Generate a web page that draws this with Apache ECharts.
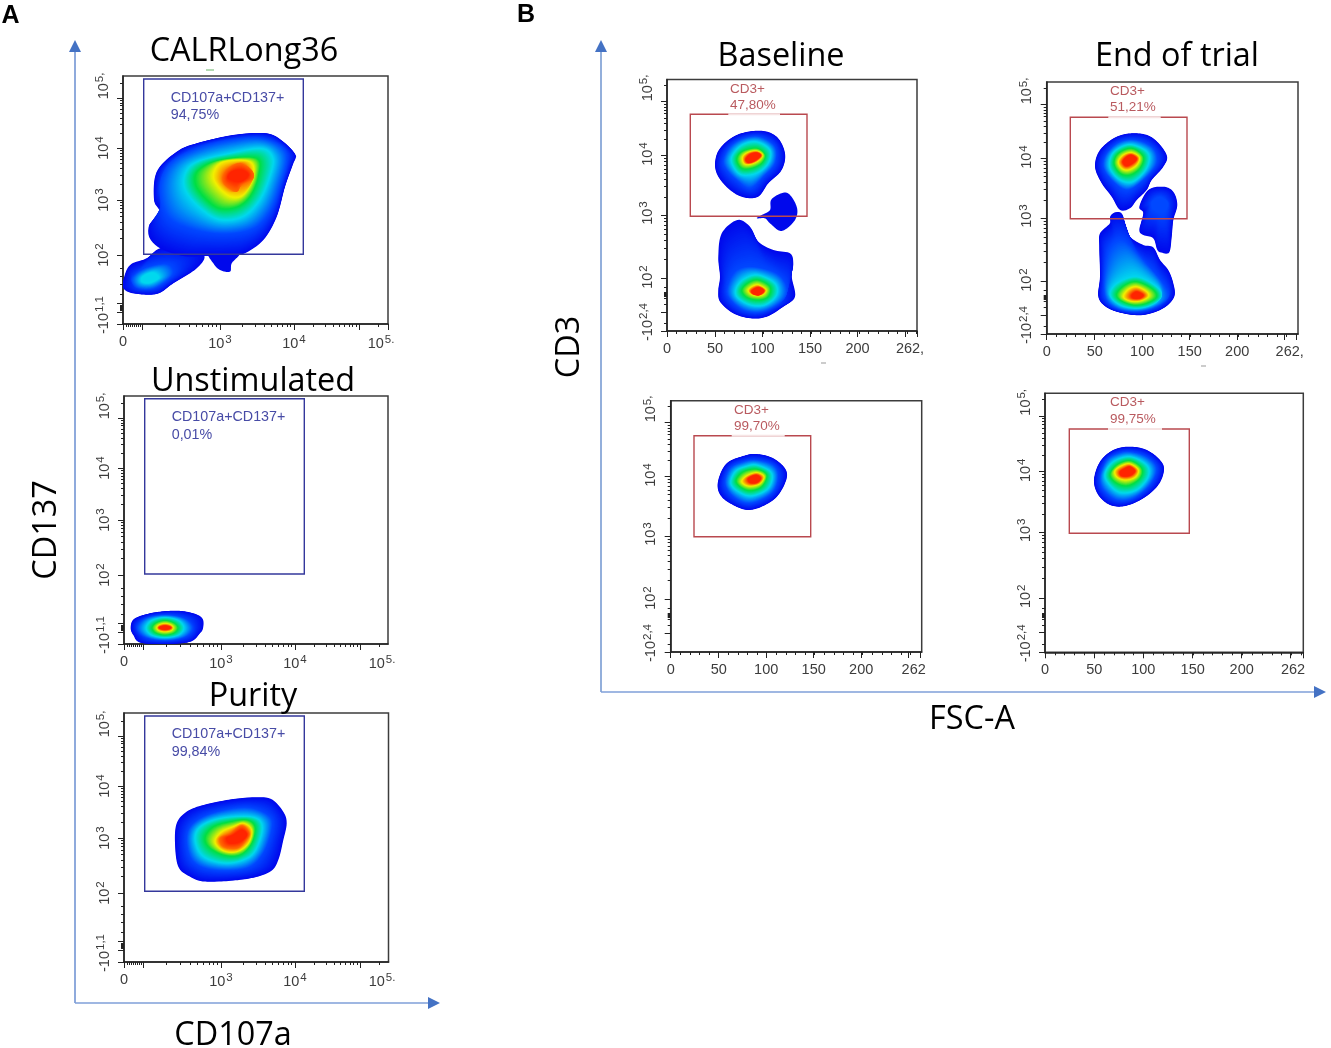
<!DOCTYPE html>
<html>
<head>
<meta charset="utf-8">
<style>html,body{margin:0;padding:0;background:#fff}#c{width:1331px;height:1048px}</style>
<script src="https://cdn.jsdelivr.net/npm/echarts@6/dist/echarts.min.js"></script>
</head>
<body>
<div id="c"></div>
<script>
// All contours and gates are readings in display channels of each plot (biexponential scale for CD137, CD107a, CD3).
const densityColors = ['#0008ec','#0048ff','#00d8ee','#00de44','#f2f000','#ff2400','#ff6a00'];

const a1Outer = [[143.7,190.7],[160.3,182.3],[172.7,169],[170.3,160.7],[162,137.3],[153.7,107.3],[140.3,84],[120,70],[100,68],[81,68],[60,68],[37,75.7],[26,87.3],[27,100.7],[36.3,104],[36.3,114],[31,124],[33.7,152.3],[53.7,172.3],[73.7,180.7],[110.3,189]];
const a1Blue = [[140.3,185.7],[163.7,170.7],[157,137.3],[147,112],[130,95],[100,90],[67,95],[43.7,108],[37,137.3],[47,160.7],[73.7,175.7],[107,184]];
const a1Cyan = [[138.7,175.7],[150.3,165.7],[147,147.3],[137,124],[120.3,107.3],[97,104],[77,115.7],[62,134],[62,150.7],[73.7,162.3],[107,170.7]];
const a1Green = [[133.7,165.7],[135.3,147.3],[127,127.3],[113.7,116.7],[95.3,115.7],[80.3,127.3],[72,140.7],[75.3,154],[97,164]];
const a1Yellow = [[127,162.3],[130.3,147.3],[120.3,129],[107,127.3],[93.7,139],[90.3,150.7],[100.3,162.3]];
const a1Orange = [[117,160.7],[128.7,154],[130.3,145.7],[118.7,139],[113.7,132.3],[102,139],[99.7,147.3],[105.3,155.7]];
const a1Core = [[118.7,154],[125.3,149],[117,142.3],[105.3,145.7],[108.7,152.3]];
const a1TailOuter = [[81,69],[73.7,55.7],[50.3,40.7],[33.7,30],[10.3,30.7],[0.3,35.7],[0.3,44],[7,59],[23.7,65.7],[37,75.7],[60,78]];
const a1TailBlue = [[44,60],[50,50],[32,36],[14,36],[9,46],[22,56]];
const a1TailCyan = [[32,51],[36,46],[27,41],[19,42],[19,47],[26,51]];
const a1Bump = [[85,72],[90.3,60.7],[97,54],[107,52.3],[108.7,60.7],[117,72],[100,80]];

const a2Outer = [[52.7,33.3],[69.3,30.7],[78.3,25.7],[79.3,17.3],[76,10.7],[62.7,1.3],[19.3,0.7],[9.3,9],[6.7,17.3],[11,25.7],[29.3,31.3]];
const a2Blue = [[41,29],[61,25.5],[69,16],[61,7],[41,3.5],[21,7],[13,16],[21,25.5]];
const a2Cyan = [[41,26.5],[54.5,23.5],[60,16],[54.5,9],[41,6.5],[27.5,9],[22,16],[27.5,23.5]];
const a2Green = [[41,23.5],[50,21],[54,16],[50,11],[41,9],[32,11],[28,16],[32,21]];
const a2Yellow = [[41,20.5],[47,19],[49,16.3],[47,13.5],[41,12.3],[35,13.5],[33,16.3],[35,19]];
const a2Red = [[41,18.3],[45,17.6],[47,16.3],[45,15],[41,14.3],[37,15],[35,16.3],[37,17.6]];

const a3Outer = [[132.7,164.7],[147.7,162.7],[159.3,150.3],[162.7,138.7],[159.3,122],[154.3,102],[146,90.3],[122.7,83],[82.7,80.3],[66,85.3],[54.3,95.3],[51,118.7],[52.7,138.7],[62.7,150.3],[79.3,157],[109.3,163]];
const a3Blue = [[129.3,153.7],[146,145.3],[147.7,132],[139.3,108.7],[122.7,93.7],[89.3,92],[69.3,100.3],[62.7,118.7],[66,135.3],[82.7,147],[109.3,153.7]];
const a3Cyan = [[126,145.3],[137.7,138.7],[136,122],[126,105.3],[102.7,98.7],[79.3,105.3],[71,122],[76,135.3],[96,143.7]];
const a3Green = [[122.7,142],[131,135.3],[127.7,118.7],[116,107],[99.3,107],[84.3,115.3],[81,125.3],[89.3,135.3],[106,140.3]];
const a3Yellow = [[119.3,138.7],[127.7,132],[124.3,118.7],[112.7,110.3],[99.3,111.3],[91,120.3],[97.7,130.3],[109.3,135.3]];
const a3Orange = [[117.7,136.3],[125.3,128.7],[121,120.3],[112.7,113.7],[99.3,115.3],[96,123.7],[106,128.7]];
const a3Core = [[117.7,132],[122.7,127],[116,120.3],[106,118.7],[102.7,123.7],[109.3,127]];

const b1UpOuter = [[93,200.3],[109.7,194.3],[118,177.7],[114.7,161],[101.3,147.7],[91.3,134.3],[76.3,133.7],[63,141],[51.3,154.3],[48,167.7],[53,182.7],[69.7,196]];
const b1UpBlue = [[93,194.3],[108,184.3],[108,167.7],[96.3,154.3],[83,142.7],[69.7,151],[59.7,161],[56.3,171],[63,184.3],[76.3,192.7]];
const b1UpCyan = [[89.7,189.3],[103,181],[101.3,167.7],[89.7,157.7],[74.7,156],[66.3,164.3],[64.7,174.3],[74.7,186]];
const b1UpGreen = [[89.7,182.7],[98,176],[94.7,167.7],[84.7,162.7],[74.7,162.7],[69.7,171],[74.7,179.3]];
const b1UpYellow = [[89.7,180],[95.7,176],[91.3,170.3],[83,166.7],[77,167.7],[75.7,174.3],[81.3,178.7]];
const b1UpRed = [[89.7,178.3],[93.7,175.3],[88,170.3],[81.3,168.3],[78.7,171.7],[83,176.7]];
const b1Side = [[119.7,138.3],[129.7,124.3],[128,111],[114.7,100],[103,107.7],[98,112.7],[89.7,112.7],[94.7,116],[103,121],[104.7,132]];
const b1LowOuter = [[70.3,111],[83,104.3],[91.3,89.3],[106.3,81],[123,77.7],[126.3,67.7],[124.7,54.3],[128,34.3],[116.3,24.3],[99.7,14.3],[83,12.7],[66.3,17.7],[53,29.3],[51.3,41],[53,54.3],[51.3,74.3],[54.7,97.7]];
const b1LowBlue = [[86.3,64.3],[109.7,57.7],[119.7,44.3],[116.3,31],[96.3,19.3],[76.3,21],[61.3,34.3],[61.3,47.7],[69.7,61]];
const b1LowCyan = [[91.3,56],[108,47.7],[109.7,36],[98,26],[83,26],[69.7,34.3],[69.7,44.3],[78,52.7]];
const b1LowGreen = [[91.3,51],[103,44.3],[101.3,34.3],[91.3,31],[79.7,33.7],[74.7,41],[81.3,48.3]];
const b1LowYellow = [[91.3,46],[99,41],[94.7,36],[86.3,36],[81.3,40.3],[84.7,44.3]];
const b1LowRed = [[91.3,43.7],[97,40.3],[92.3,36],[86.3,37],[84.7,40.3]];

const b2UpOuter = [[90,200.7],[106.6,195.7],[120,179],[116.6,167.3],[105,154],[100,144],[90,134],[83.3,125.7],[73.3,124],[65,137.3],[55,150.7],[48.3,167.3],[53.3,184],[70,197.3]];
const b2UpBlue = [[90,194],[106.6,185.7],[110,170.7],[96.6,154],[80,144],[65,154],[56.6,167.3],[60,180.7],[73.3,192.3]];
const b2UpCyan = [[86.6,189],[101.6,180.7],[100,165.7],[86.6,152.3],[73.3,154],[63.3,165.7],[65,179],[75,187.3]];
const b2UpGreen = [[85,185.7],[96.6,177.3],[93.3,165.7],[83.3,159],[73.3,160.7],[67.3,170.7],[71.6,180.7]];
const b2UpYellow = [[85,181.3],[92.6,176.7],[90,169],[81.6,164],[75,165.7],[71.6,172.3],[76.6,179]];
const b2UpRed = [[85,179],[90,175],[85,170],[79.3,168],[76,172.3],[80,177.3]];
const b2SideOuter = [[116.6,147.3],[126.6,142.3],[130.6,129],[126.6,114],[125,97.3],[122.6,81.7],[115,81.3],[110.6,84],[106.6,95.7],[96.6,99],[92.6,104],[96.6,120.7],[92.6,127.3],[101.6,144]];
const b2SideBlue = [[113.3,137.3],[121.6,130.7],[116.6,120.7],[106.6,124],[105,132.3]];
const b2LowOuter = [[68.3,121.7],[75,120.7],[78.3,110.7],[83.3,97.3],[96.6,89],[106.6,86.7],[113.3,74],[121.6,64],[126.6,50.7],[127.6,37.3],[116.6,25.7],[96.6,19],[76.6,20.7],[60,26.7],[51.6,37.3],[53.3,57.3],[52.6,87.3],[53.3,100.7],[63.3,110.7],[63.3,117.3]];
const b2LowBlue = [[76.6,94],[96.6,74],[116.6,50.7],[121.6,37.3],[110,27.3],[90,22.3],[70,25.7],[58.3,37.3],[58.3,64],[63.3,87.3]];
const b2LowCyan = [[90,57.3],[110,47.3],[115,37.3],[105,29],[90,25.7],[73.3,29],[63.3,39],[70,50.7]];
const b2LowGreen = [[90,52.3],[105,45.7],[110,37.3],[100,30.7],[86.6,29],[73.3,34],[70,40.7],[78.3,49]];
const b2LowYellow = [[90,47.3],[100,42.3],[101.6,37.3],[93.3,33],[83.3,33],[76.6,37.3],[81.6,44.7]];
const b2LowRed = [[90,42.3],[96.6,39],[93.3,35.7],[86.6,35.7],[85,39]];

const b3Outer = [[86,198],[102.6,193.7],[115.3,182],[114.3,168.7],[102.6,152],[79.3,142],[59.3,148.7],[48.6,158.7],[47.6,172],[56,188.7],[72.6,196]];
const b3Blue = [[86,192],[102.6,187],[107.6,175.3],[101,158.7],[79.3,148.7],[62.6,155.3],[54.3,168.7],[59.3,183.7],[72.6,190.3]];
const b3Cyan = [[86,187],[101,178.7],[97.6,163.7],[81,156],[67.6,160.3],[60,168.7],[64.3,180.3],[74.3,185.3]];
const b3Green = [[86,182.7],[96,177],[91,165.3],[79.3,161.3],[69.3,165.3],[65.3,172],[72.6,180.3]];
const b3Yellow = [[86,179.3],[93.3,175.3],[88.6,168],[77.6,166],[71,170.3],[76,176]];
const b3Red = [[85.3,177],[90,173.7],[86,169.3],[79.3,169.3],[77.6,173.7]];

const b4Outer = [[85,205.6],[101.7,202.3],[115,192.3],[119,182.3],[113.3,167.3],[98.3,154],[80,146.3],[65,147.3],[53.3,157.3],[49,172.3],[55,190.6],[68.3,202.3]];
const b4Blue = [[85,200.6],[101.7,195.6],[111.7,184],[105,167.3],[88.3,154],[71.7,152.3],[58.3,162.3],[55,175.6],[61.7,192.3],[73.3,199]];
const b4Cyan = [[85,195.6],[101.7,187.3],[103.3,175.6],[91.7,162.3],[75,159.6],[63.3,169],[60,179],[68.3,190.6]];
const b4Green = [[85,191.6],[96.7,184],[95,174],[83.3,166.6],[71.7,169],[65,177.3],[71.7,187.3]];
const b4Yellow = [[85,188.3],[93.3,182.3],[90,175],[80,172.3],[71.7,175.6],[70,181.6],[76.7,186.6]];
const b4Red = [[85,185.6],[90,181.3],[85,176.6],[76.7,176.3],[75,180.6],[80,184]];

// gates: x0,yTop,x1,yBottom
const gateA1 = [20.7,245,180.3,69.7];
const gateA2 = [20.7,245.3,180.3,70];
const gateA3 = [20.7,246,180.3,70.7];
const gateB1 = [23.3,216.7,140,114.7];
const gateB2 = [23.6,216.7,140.3,115.3];
const gateB3 = [23.3,216.3,140,115.3];
const gateB4 = [24.3,223.3,144.3,119];
const gateNameA = 'CD107a+CD137+';
const gateNameB = 'CD3+';
const pctA = ['94,75%','0,01%','99,84%'];
const pctB = ['47,80%','51,21%','99,70%','99,75%'];

// tick positions and labels (^ starts the raised part of a label)
const aXMajor = [0,19,97,171,236,265];
const aXLabelAt = [0,97,171,258];
const aXLabels = ['0','10^3','10^4','10^5.'];
const aYMajor = [0,12,21,69,124,176,226];
const aYLabelAt = [9,69,124,176,238];
const aYLabels = ['-10^1,1','10^2','10^3','10^4','10^5,'];
const bXMajor = [0,48,95.5,143,190.5,238,250];
const bXLabelAt = [0,48,95.5,143,190.5,243];
const bXLabels = ['0','50','100','150','200','262,'];
const bXLabelsLower = ['0','50','100','150','200','262'];
const b4XMajor = [0,49.3,98.3,147.7,196.7,245.7,258];
const b4XLabelAt = [0,49.3,98.3,147.7,196.7,248];
const bYMajor = [0,19,52.3,116,175.3,229.3];
const bYLabelAt = [9,54,118,177,243];
const bYLabels = ['-10^2,4','10^2','10^3','10^4','10^5,'];
const b4YMajor = [0,20,54,120,180.6,236.3];
const b4YLabelAt = [9,56,122,182,250];

const fullLevels = [0,1,2,3,4,5];
const panels = [
 {g:[123,76,265,248],x:aXMajor,xl:aXLabelAt,xt:aXLabels,y:aYMajor,yl:aYLabelAt,yt:aYLabels,kind:'a',gate:gateA1,text:[gateNameA,pctA[0]],tp:[47.7,226,209],
  blobs:[{c:[a1TailOuter,a1TailBlue,a1TailCyan],l:[0,1,2]},{c:[a1Bump],l:[0]},{c:[a1Outer,a1Blue,a1Cyan,a1Green,a1Yellow,a1Orange,a1Core],l:[0,1,2,3,4,6,5]}]},
 {g:[124,396,264,248],x:aXMajor,xl:aXLabelAt,xt:aXLabels,y:aYMajor,yl:aYLabelAt,yt:aYLabels,kind:'a',gate:gateA2,text:[gateNameA,pctA[1]],tp:[47.7,227,209],
  blobs:[{c:[a2Outer,a2Blue,a2Cyan,a2Green,a2Yellow,a2Red],l:fullLevels}]},
 {g:[124,713,264.5,249],x:aXMajor,xl:aXLabelAt,xt:aXLabels,y:aYMajor,yl:aYLabelAt,yt:aYLabels,kind:'a',gate:gateA3,text:[gateNameA,pctA[2]],tp:[47.7,228,210],
  blobs:[{c:[a3Outer,a3Blue,a3Cyan,a3Green,a3Yellow,a3Orange,a3Core],l:[0,1,2,3,4,6,5]}]},
 {g:[667,79.5,250,251.5],x:bXMajor,xl:bXLabelAt,xt:bXLabels,y:bYMajor,yl:bYLabelAt,yt:bYLabels,kind:'b',gate:gateB1,gap:[61.3,113],text:[gateNameB,pctB[0]],tp:[63,241.7,226],
  blobs:[{c:[b1UpOuter,b1UpBlue,b1UpCyan,b1UpGreen,b1UpYellow,b1UpRed],l:fullLevels},{c:[b1Side],l:[0]},{c:[b1LowOuter,b1LowBlue,b1LowCyan,b1LowGreen,b1LowYellow,b1LowRed],l:fullLevels}]},
 {g:[1046.7,82,251.3,252],x:bXMajor,xl:bXLabelAt,xt:bXLabels,y:bYMajor,yl:bYLabelAt,yt:bYLabels,kind:'b',gate:gateB2,gap:[61.6,114],text:[gateNameB,pctB[1]],tp:[63.3,242.3,226.7],
  blobs:[{c:[b2LowOuter,b2LowBlue,b2LowCyan,b2LowGreen,b2LowYellow,b2LowRed],l:fullLevels},{c:[b2UpOuter,b2UpBlue,b2UpCyan,b2UpGreen,b2UpYellow,b2UpRed],l:fullLevels},{c:[b2SideOuter,b2SideBlue],l:[0,1]}]},
 {g:[670.7,400.7,251,251.3],x:bXMajor,xl:bXLabelAt,xt:bXLabelsLower,y:bYMajor,yl:bYLabelAt,yt:bYLabels,kind:'b',gate:gateB3,gap:[61,114],text:[gateNameB,pctB[2]],tp:[63.3,242,226],
  blobs:[{c:[b3Outer,b3Blue,b3Cyan,b3Green,b3Yellow,b3Red],l:fullLevels}]},
 {g:[1045,393.3,258.3,259],x:b4XMajor,xl:b4XLabelAt,xt:bXLabelsLower,y:b4YMajor,yl:b4YLabelAt,yt:bYLabels,kind:'b',gate:gateB4,gap:[63,117],text:[gateNameB,pctB[3]],tp:[65,249.6,233],
  blobs:[{c:[b4Outer,b4Blue,b4Cyan,b4Green,b4Yellow,b4Red],l:fullLevels}]}
];

function logMinors(a,b,end){const out=[];for(let k=2;k<10;k++){const v=a+(b-a)*Math.log10(k);if(v<end)out.push(v);}return out;}
function minorX(p){
  const m=p.x;
  if(p.kind==='a') return [3,5,7,9,11,13,15,17].concat(logMinors(19,97,97),logMinors(97,171,171),logMinors(171,236,236),logMinors(236,300,265));
  const step=m[1]/5,out=[];for(let v=step;v<m[m.length-1];v+=step)out.push(v);return out;
}
function minorY(p){
  const m=p.y,H=p.g[3];
  if(p.kind==='a') return [14,15,16,17,18,19,30,40,48,56].concat(logMinors(69,124,124),logMinors(124,176,176),logMinors(176,226,226),logMinors(226,276,H));
  return [8,27,33,35,36,37,38,39,44].concat(logMinors(m[2],m[3],m[3]),logMinors(m[3],m[4],m[4]),logMinors(m[4],m[5],m[5]),logMinors(m[5],m[5]+54,H));
}
// smooth closed outline, evenly resampled from the first read point
function outline(pts,n){
  const dense=[],L=pts.length;
  for(let i=0;i<L;i++){
    const p0=pts[(i-1+L)%L],p1=pts[i],p2=pts[(i+1)%L],p3=pts[(i+2)%L];
    for(let s=0;s<8;s++){const t=s/8,t2=t*t,t3=t2*t;
      dense.push([0,1].map(d=>0.5*(2*p1[d]+(p2[d]-p0[d])*t+(2*p0[d]-5*p1[d]+4*p2[d]-p3[d])*t2+(3*p1[d]-p0[d]-3*p2[d]+p3[d])*t3)));}
  }
  dense.push(dense[0]);
  let len=[0];for(let i=1;i<dense.length;i++)len.push(len[i-1]+Math.hypot(dense[i][0]-dense[i-1][0],dense[i][1]-dense[i-1][1]));
  const tot=len[len.length-1],out=[];let j=0;
  for(let i=0;i<n;i++){const d=tot*i/n;while(len[j+1]<d)j++;const f=(d-len[j])/(len[j+1]-len[j]||1);
    out.push([dense[j][0]+(dense[j+1][0]-dense[j][0])*f,dense[j][1]+(dense[j+1][1]-dense[j][1])*f]);}
  return out;
}
function hex(c){return [1,3,5].map(i=>parseInt(c.substr(i,2),16));}
function mix(a,b,t){const A=hex(a),B=hex(b);return 'rgb('+A.map((v,i)=>Math.round(v+(B[i]-v)*t)).join(',')+')';}

const tickColor='#222',labelColor='#3c3c3c';
const richStyle={b:{fontFamily:'Liberation Sans',fontSize:14.5,color:labelColor},s:{fontFamily:'Liberation Sans',fontSize:11.5,color:labelColor,padding:[0,0,7,1]}};
function tickText(t){if(!t)return '';const q=t.split('^');return q.length>1?'{b|'+q[0]+'}{s|'+q[1]+'}':'{b|'+t+'}';}

const grid=[],xAxis=[],yAxis=[],series=[];
panels.forEach((p,i)=>{
  const [l,t,w,h]=p.g;
  grid.push({left:l,top:t,width:w,height:h,show:true,borderColor:'#3c3c3c',borderWidth:1.5,backgroundColor:'#fff'});
  const xa=i*2,ya=i*2;
  const xFmt=v=>tickText(p.xt[p.xl.indexOf(v)]);
  const yFmt=v=>tickText(p.yt[p.yl.indexOf(v)]);
  xAxis.push({type:'value',gridIndex:i,min:0,max:w,position:'bottom',splitLine:{show:false},
    axisLine:{onZero:false,lineStyle:{color:tickColor,width:1.5}},
    axisTick:{customValues:p.x,length:6,lineStyle:{color:tickColor,width:1}},
    axisLabel:{customValues:p.xl,formatter:xFmt,margin:10,rich:richStyle,showMinLabel:true,showMaxLabel:true,hideOverlap:false}});
  xAxis.push({type:'value',gridIndex:i,min:0,max:w,position:'bottom',splitLine:{show:false},axisLine:{show:false,onZero:false},
    axisTick:{customValues:minorX(p),length:3,lineStyle:{color:tickColor,width:1}},axisLabel:{show:false}});
  yAxis.push({type:'value',gridIndex:i,min:0,max:h,position:'left',splitLine:{show:false},
    axisLine:{onZero:false,lineStyle:{color:tickColor,width:1.5}},
    axisTick:{customValues:p.y,length:6,lineStyle:{color:tickColor,width:1}},
    axisLabel:{customValues:p.yl,formatter:yFmt,rotate:90,margin:10,rich:richStyle,showMinLabel:true,showMaxLabel:true,hideOverlap:false}});
  yAxis.push({type:'value',gridIndex:i,min:0,max:h,position:'left',splitLine:{show:false},axisLine:{show:false,onZero:false},
    axisTick:{customValues:minorY(p),length:3,lineStyle:{color:tickColor,width:1}},axisLabel:{show:false}});
  p.blobs.forEach(b=>{
    series.push({type:'custom',xAxisIndex:xa,yAxisIndex:ya,silent:true,animation:false,clip:true,
      data:b.c.map((c,k)=>[c[0][0],c[0][1],b.l[k]]),
      renderItem:(params,api)=>{
        const k=params.dataIndex,N=140,steps=24;
        const a=outline(b.c[k],N),next=b.c[k+1]?outline(b.c[k+1],N):null;
        const kids=[];
        const n=next?steps:1;
        for(let s=0;s<n;s++){
          const f=s/steps;
          const pts=a.map((q,m)=>{const r=next?next[m]:q;return api.coord([q[0]+(r[0]-q[0])*f,q[1]+(r[1]-q[1])*f]);});
          const col=next?mix(densityColors[b.l[k]],densityColors[b.l[k+1]],f):densityColors[b.l[k]];
          kids.push({type:'polygon',shape:{points:pts},style:{fill:col}});
        }
        return {type:'group',children:kids};
      }});
  });
  const color=p.kind==='a'?'#34389c':'#b9494f';
  const txtColor=p.kind==='a'?'#474ba6':'#b95a5f';
  const fs=p.kind==='a'?14.3:13.5;
  series.push({type:'custom',xAxisIndex:xa,yAxisIndex:ya,silent:true,animation:false,clip:false,
    data:[p.gate],
    renderItem:(params,api)=>{
      const g=p.gate,tl=api.coord([g[0],g[1]]),br=api.coord([g[2],g[3]]);
      const kids=[{type:'rect',shape:{x:tl[0],y:tl[1],width:br[0]-tl[0],height:br[1]-tl[1]},style:{fill:'none',stroke:color,lineWidth:1.4}}];
      if(p.gap){const s=api.coord([p.gap[0],g[1]]),e=api.coord([p.gap[1],g[1]]);
        kids.push({type:'line',shape:{x1:s[0],y1:s[1],x2:e[0],y2:e[1]},style:{stroke:'#f6e4e4',lineWidth:2}});}
      p.text.forEach((tx,m)=>{const c=api.coord([p.tp[0],p.tp[m+1]]);
        kids.push({type:'text',style:{x:c[0],y:c[1],text:tx,fill:txtColor,fontFamily:'Liberation Sans',fontSize:fs,align:'left',verticalAlign:'middle'}});});
      return {type:'group',children:kids};
    }});
});

const TF='"Open Sans"';
function label(text,x,y,size,opt){return Object.assign({type:'text',z:50,x:x,y:y,style:{text:text,fill:'#000',fontFamily:TF,fontSize:size,align:'center',verticalAlign:'middle'}},opt||{});}
function line(x1,y1,x2,y2,c,w){return {type:'line',z:40,shape:{x1,y1,x2,y2},style:{stroke:c,lineWidth:w}};}
function tri(pts){return {type:'polygon',z:41,shape:{points:pts},style:{fill:'#4472c4'}};}
const graphic=[
  line(75,50,75,1003,'#8faadc',2),line(75,1003,429,1003,'#7f9fd8',1.5),tri([[75,40],[69,52],[81,52]]),tri([[440,1003],[428,997],[428,1009]]),
  line(601,50,601,692,'#6f94cf',1.5),line(601,692,1315,692,'#7f9fd8',1.5),tri([[601,40],[595,52],[607,52]]),tri([[1326,692],[1314,686],[1314,698]]),
  line(206,70,214,70,'#7fbf7f',1.2),line(821,363,826,363,'#999',1),line(1201,366,1206,366,'#999',1),
  label('CALRLong36',244,52,32.4),label('Unstimulated',253,382,32.4),label('Purity',253,697,32.4),label('CD107a',233,1036,32.4),
  label('Baseline',781,57,32.4),label('End of trial',1177,57,32.4),label('FSC-A',972,720,32.4),
  label('CD137',47,530,32.4,{rotation:Math.PI/2}),label('CD3',570,347,32.4,{rotation:Math.PI/2}),
  {type:'text',z:50,x:10.5,y:16,style:{text:'A',fill:'#000',fontFamily:'Liberation Sans',fontWeight:'bold',fontSize:25,align:'center',verticalAlign:'middle'}},
  {type:'text',z:50,x:526,y:15,style:{text:'B',fill:'#000',fontFamily:'Liberation Sans',fontWeight:'bold',fontSize:25,align:'center',verticalAlign:'middle'}}
];
const chart=echarts.init(document.getElementById('c'),null,{renderer:'canvas',width:1331,height:1048});
chart.setOption({animation:false,backgroundColor:'#fff',grid,xAxis,yAxis,series,graphic});
</script>
</body>
</html>
